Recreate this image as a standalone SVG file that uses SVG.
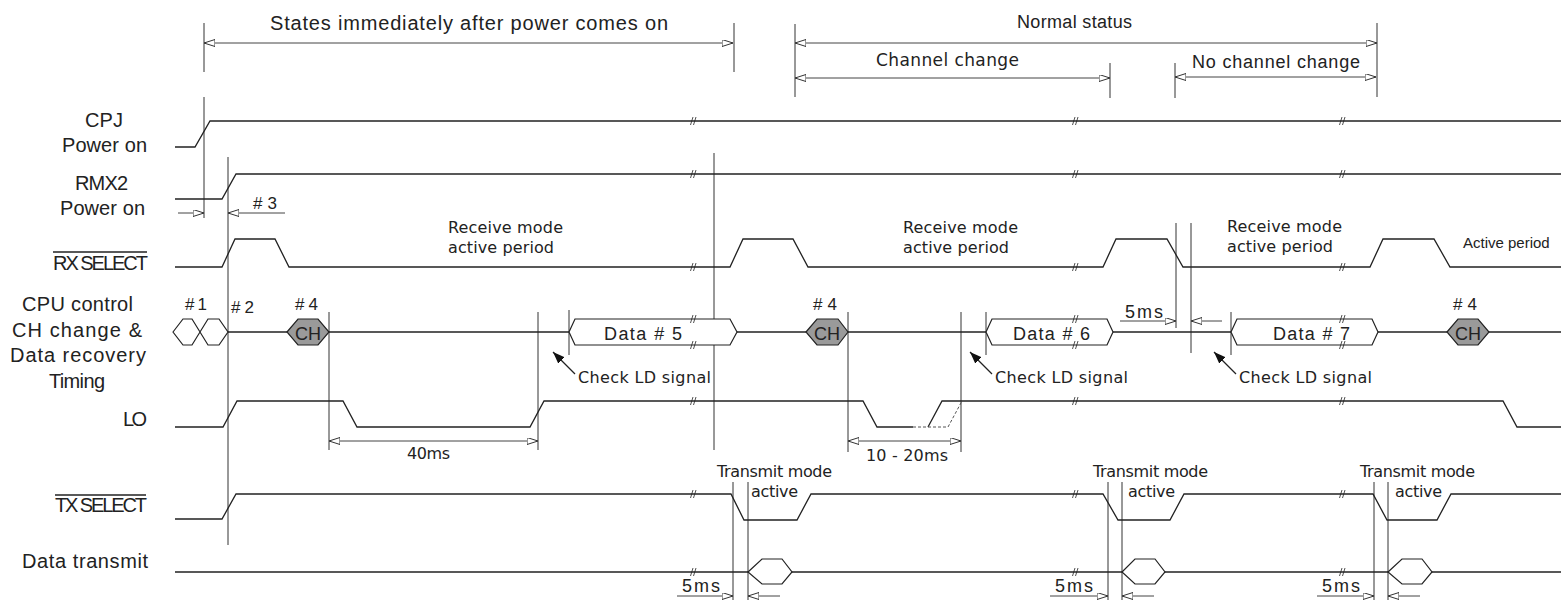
<svg xmlns="http://www.w3.org/2000/svg" width="1561" height="600" viewBox="0 0 1561 600">
<style>
.s{stroke:#222;stroke-width:1.3;fill:none}
.v{stroke:#333;stroke-width:1;fill:none}
.d{stroke:#444;stroke-width:1;fill:none}
.dash{stroke:#555;stroke-width:1;fill:none;stroke-dasharray:3 2}
.hx{stroke:#222;stroke-width:1.2;fill:#fff}
.ch{stroke:#222;stroke-width:1.2;fill:#9a9a9a}
.t{font-family:"Liberation Sans",Arial,sans-serif;fill:#222}
.g{font-family:"DejaVu Sans","Liberation Sans",sans-serif;fill:#222}
.f20{font-size:20px}.f18{font-size:18px}.f17{font-size:17px}.f16{font-size:16px}.f15{font-size:15px}
</style>
<defs>
<marker id="oa" markerUnits="userSpaceOnUse" markerWidth="13" markerHeight="9" refX="11" refY="3.5" orient="auto-start-reverse"><path d="M0,0 L11,3.5 L0,7 Z" fill="#fff" stroke="#333" stroke-width="1"/></marker>
<marker id="fa" markerUnits="userSpaceOnUse" markerWidth="14" markerHeight="11" refX="12" refY="4.5" orient="auto"><path d="M0,0 L12,4.5 L0,9 Z" fill="#111"/></marker>
<g id="brk"><path d="M-2.5,4 L0,-4 M0.5,4 L3,-4" stroke="#222" stroke-width="0.8" fill="none"/></g>
</defs>
<rect width="1561" height="600" fill="#fff"/>

<g id="connectors">
<path class="v" d="M204,23V72 M204,97V218 M228,157V545 M329,312V450 M538,312V450 M569,310V355 M714,153V450 M734,23V72 M795,24V97 M848,312V452 M961,312V452 M986,312V355 M1110,63V98 M1175,63V98 M1377,23V97 M1176,223V328 M1191,223V353 M1231,312V355 M733,482V600 M748,482V600 M1108,482V600 M1122,482V600 M1374,482V600 M1388,482V600"/>
<line class="d" x1="204" y1="43" x2="733" y2="43" marker-start="url(#oa)" marker-end="url(#oa)"/>
<line class="d" x1="795" y1="43" x2="1377" y2="43" marker-start="url(#oa)" marker-end="url(#oa)"/>
<line class="d" x1="795" y1="78" x2="1110" y2="78" marker-start="url(#oa)" marker-end="url(#oa)"/>
<line class="d" x1="1175" y1="77" x2="1376" y2="77" marker-start="url(#oa)" marker-end="url(#oa)"/>
<line class="d" x1="329" y1="441" x2="538" y2="441" marker-start="url(#oa)" marker-end="url(#oa)"/>
<line class="d" x1="848" y1="441" x2="961" y2="441" marker-start="url(#oa)" marker-end="url(#oa)"/>
<line class="d" x1="178" y1="213" x2="204" y2="213" marker-end="url(#oa)"/>
<line class="d" x1="285" y1="213" x2="228" y2="213" marker-end="url(#oa)"/>
<line class="d" x1="1120" y1="321" x2="1176" y2="321" marker-end="url(#oa)"/>
<line class="d" x1="1222" y1="321" x2="1191" y2="321" marker-end="url(#oa)"/>
<line class="d" x1="677" y1="596" x2="733" y2="596" marker-end="url(#oa)"/>
<line class="d" x1="780" y1="596" x2="748" y2="596" marker-end="url(#oa)"/>
<line class="d" x1="1050" y1="596" x2="1108" y2="596" marker-end="url(#oa)"/>
<line class="d" x1="1154" y1="596" x2="1122" y2="596" marker-end="url(#oa)"/>
<line class="d" x1="1317" y1="596" x2="1374" y2="596" marker-end="url(#oa)"/>
<line class="d" x1="1420" y1="596" x2="1388" y2="596" marker-end="url(#oa)"/>
<line class="s" x1="575" y1="374" x2="553" y2="352" marker-end="url(#fa)"/>
<line class="s" x1="992" y1="374" x2="970" y2="352" marker-end="url(#fa)"/>
<line class="s" x1="1236" y1="374" x2="1214" y2="352" marker-end="url(#fa)"/>
</g>

<g id="titles">
<text class="t f20" x="270" y="30" textLength="398">States immediately after power comes on</text>
<text class="t f18" x="1017" y="28" textLength="115">Normal status</text>
<text class="g f17" x="876" y="66" textLength="143">Channel change</text>
<text class="t f18" x="1192" y="68" textLength="168">No channel change</text>
</g>

<g id="cpj">
<text class="t f20" x="85" y="127" textLength="38">CPJ</text>
<text class="t f20" x="62" y="152" textLength="85">Power on</text>
<polyline class="s" points="175,147 195,147 210,121 1561,121"/>
<use href="#brk" x="693" y="121"/><use href="#brk" x="1075" y="121"/><use href="#brk" x="1342" y="121"/>
</g>

<g id="rmx2">
<text class="t f20" x="75" y="190" textLength="53">RMX2</text>
<text class="t f20" x="60" y="215" textLength="85">Power on</text>
<polyline class="s" points="175,199 222,199 236,174 1561,174"/>
<use href="#brk" x="693" y="174"/><use href="#brk" x="1075" y="174"/><use href="#brk" x="1342" y="174"/>
<text class="t f17" x="253" y="209" textLength="24"># 3</text>
</g>

<g id="rxselect">
<text class="t f20" x="53" y="270" textLength="95">RX SELECT</text>
<line class="s" x1="53" y1="252" x2="147" y2="252"/>
<polyline class="s" points="175,267 222,267 235,239 275,239 289,267 730,267 743,239 793,239 808,267 1103,267 1116,239 1167,239 1183,267 1370,267 1383,239 1434,239 1450,267 1561,267"/>
<use href="#brk" x="693" y="267"/><use href="#brk" x="1075" y="267"/><use href="#brk" x="1342" y="267"/>
<text class="g f16" x="448" y="233" textLength="115">Receive mode</text>
<text class="g f16" x="448" y="253" textLength="106">active period</text>
<text class="g f16" x="903" y="233" textLength="115">Receive mode</text>
<text class="g f16" x="903" y="253" textLength="106">active period</text>
<text class="g f16" x="1227" y="232" textLength="115">Receive mode</text>
<text class="g f16" x="1227" y="252" textLength="106">active period</text>
<text class="t f15" x="1463" y="248">Active period</text>
</g>

<g id="cpu">
<text class="t f20" x="22" y="311" textLength="111">CPU control</text>
<text class="t f20" x="12" y="337" textLength="130">CH change &amp;</text>
<text class="t f20" x="10" y="362" textLength="136">Data recovery</text>
<text class="t f20" x="49" y="388" textLength="56">Timing</text>
<path class="hx" d="M173,332 L183,319 L192,319 L208,345 L219,345 L228,332 L219,319 L208,319 L192,345 L183,345 Z"/>
<path class="s" d="M228,332H287 M329,332H569 M737,332H806 M848,332H986 M1113,332H1231 M1378,332H1447 M1489,332H1561"/>
<path class="ch" d="M287,332 L298,319 L318,319 L329,332 L318,345 L298,345 Z"/>
<path class="ch" d="M806,332 L817,319 L838,319 L848,332 L838,345 L817,345 Z"/>
<path class="ch" d="M1447,332 L1458,319 L1478,319 L1489,332 L1478,345 L1458,345 Z"/>
<text class="t f18" x="308" y="340" text-anchor="middle">CH</text>
<text class="t f18" x="827" y="340" text-anchor="middle">CH</text>
<text class="t f18" x="1468" y="340" text-anchor="middle">CH</text>
<text class="t f17" x="185" y="310" textLength="22"># 1</text>
<text class="t f17" x="231" y="313" textLength="23"># 2</text>
<text class="t f17" x="295" y="310" textLength="23"># 4</text>
<text class="t f17" x="813" y="310" textLength="24"># 4</text>
<text class="t f17" x="1453" y="310" textLength="24"># 4</text>
<path class="hx" d="M569,332 L575,319 L730,319 L737,332 L730,345 L575,345 Z"/>
<path class="hx" d="M986,332 L992,319 L1107,319 L1113,332 L1107,345 L992,345 Z"/>
<path class="hx" d="M1231,332 L1237,319 L1372,319 L1378,332 L1372,345 L1237,345 Z"/>
<use href="#brk" x="693" y="319"/><use href="#brk" x="693" y="345"/>
<use href="#brk" x="1075" y="319"/><use href="#brk" x="1075" y="345"/>
<use href="#brk" x="1342" y="319"/><use href="#brk" x="1342" y="345"/>
<text class="t f18" x="604" y="340" textLength="78">Data # 5</text>
<text class="t f18" x="1013" y="340" textLength="77">Data # 6</text>
<text class="t f18" x="1273" y="340" textLength="77">Data # 7</text>
<text class="t f18" x="1125" y="318" textLength="38">5ms</text>
<text class="g f16" x="578" y="383" textLength="133">Check LD signal</text>
<text class="g f16" x="995" y="383" textLength="133">Check LD signal</text>
<text class="g f16" x="1239" y="383" textLength="133">Check LD signal</text>
</g>

<g id="lo">
<text class="t f20" x="123" y="426" textLength="24">LO</text>
<polyline class="s" points="175,427 223,427 237,401 343,401 357,427 530,427 544,401 863,401 877,427 913,427"/>
<polyline class="s" points="928,427 942,401 1503,401 1517,427 1561,427"/>
<polyline class="dash" points="913,427 948,427 962,401"/>
<use href="#brk" x="693" y="401"/><use href="#brk" x="1075" y="401"/><use href="#brk" x="1342" y="401"/>
<text class="g f16" x="407" y="459" textLength="43">40ms</text>
<text class="g f16" x="866" y="461" textLength="82">10 - 20ms</text>
</g>

<g id="txselect">
<text class="t f20" x="55" y="512" textLength="92">TX SELECT</text>
<line class="s" x1="55" y1="495" x2="146" y2="495"/>
<polyline class="s" points="175,519 222,519 236,494 731,494 744,520 797,520 811,494 1103,494 1118,520 1170,520 1184,494 1373,494 1387,520 1437,520 1451,494 1561,494"/>
<use href="#brk" x="693" y="494"/><use href="#brk" x="1075" y="494"/><use href="#brk" x="1342" y="494"/>
<text class="g f16" x="717" y="477" textLength="115">Transmit mode</text>
<text class="g f16" x="751" y="497" textLength="47">active</text>
<text class="g f16" x="1093" y="477" textLength="115">Transmit mode</text>
<text class="g f16" x="1128" y="497" textLength="47">active</text>
<text class="g f16" x="1360" y="477" textLength="115">Transmit mode</text>
<text class="g f16" x="1395" y="497" textLength="47">active</text>
</g>

<g id="datatransmit">
<text class="t f20" x="22" y="568" textLength="126">Data transmit</text>
<path class="s" d="M175,572H748 M792,572H1122 M1165,572H1388 M1432,572H1561"/>
<path class="hx" d="M748,572 L762,559 L782,559 L792,572 L782,584 L762,584 Z"/>
<path class="hx" d="M1122,572 L1135,559 L1155,559 L1165,572 L1155,584 L1135,584 Z"/>
<path class="hx" d="M1388,572 L1402,559 L1422,559 L1432,572 L1422,584 L1402,584 Z"/>
<use href="#brk" x="693" y="572"/><use href="#brk" x="1075" y="572"/><use href="#brk" x="1342" y="572"/>
<text class="t f18" x="682" y="592" textLength="38">5ms</text>
<text class="t f18" x="1055" y="592" textLength="38">5ms</text>
<text class="t f18" x="1322" y="592" textLength="38">5ms</text>
</g>
</svg>
